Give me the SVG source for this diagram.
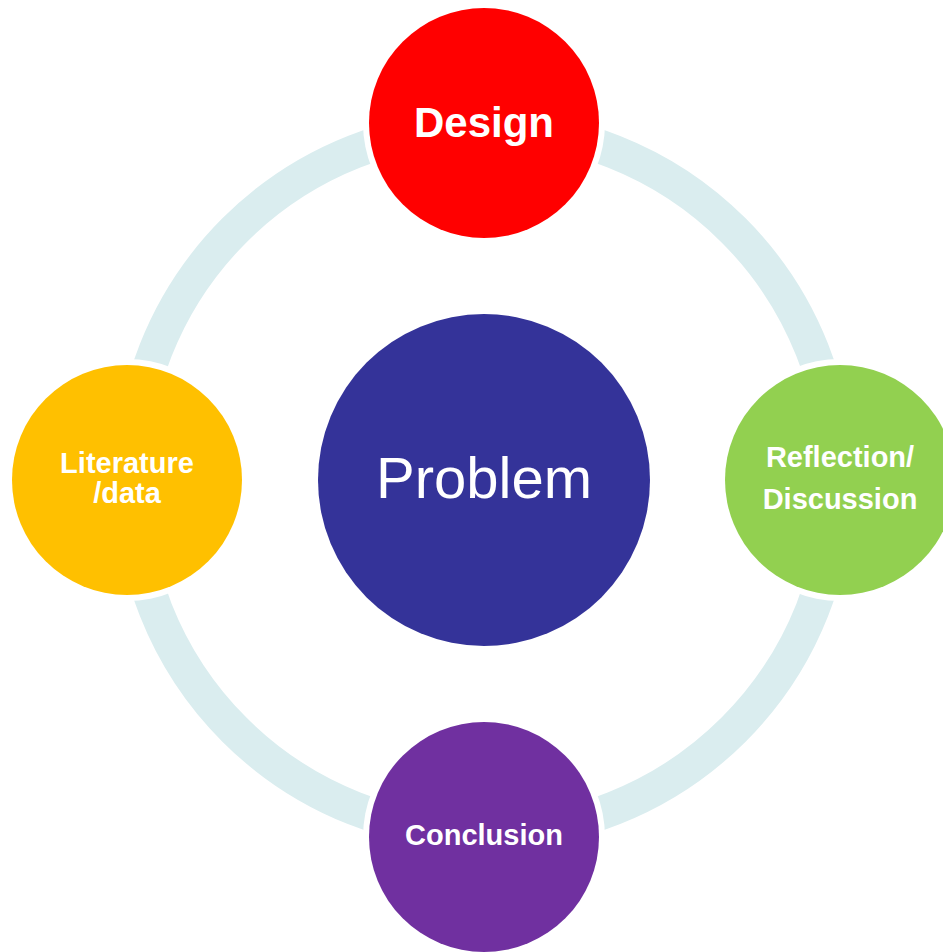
<svg xmlns="http://www.w3.org/2000/svg" width="943" height="952" viewBox="0 0 943 952">
<style>
.halo{fill:#FFFFFF}
.lbl{font-family:"Liberation Sans",Arial,sans-serif;fill:#FFFFFF;text-anchor:middle;font-weight:bold}
</style>
<rect width="943" height="952" fill="#FFFFFF"/>
<g id="connectors">
<circle cx="484" cy="480" r="353" fill="none" stroke="#DAEDEF" stroke-width="34"/>
</g>
<g id="problem">
<circle cx="484" cy="480" r="166" fill="#343399"/>
<text x="484" y="498" font-family="Liberation Sans, Arial, sans-serif" font-size="58" fill="#FFFFFF" text-anchor="middle">Problem</text>
</g>
<g id="design">
<circle class="halo" cx="484" cy="123" r="121"/>
<circle cx="484" cy="123" r="115" fill="#FF0000"/>
<text class="lbl" x="484" y="137" font-size="42">Design</text>
</g>
<g id="literature">
<circle class="halo" cx="127" cy="480" r="121"/>
<circle cx="127" cy="480" r="115" fill="#FFC000"/>
<text class="lbl" x="127" y="473" font-size="29">Literature</text>
<text class="lbl" x="127" y="503" font-size="29">/data</text>
</g>
<g id="reflection">
<circle class="halo" cx="840" cy="480" r="121"/>
<circle cx="840" cy="480" r="115" fill="#92D050"/>
<text class="lbl" x="840" y="467" font-size="29">Reflection/</text>
<text class="lbl" x="840" y="509" font-size="29">Discussion</text>
</g>
<g id="conclusion">
<circle class="halo" cx="484" cy="837" r="121"/>
<circle cx="484" cy="837" r="115" fill="#7030A0"/>
<text class="lbl" x="484" y="845" font-size="29">Conclusion</text>
</g>
</svg>
